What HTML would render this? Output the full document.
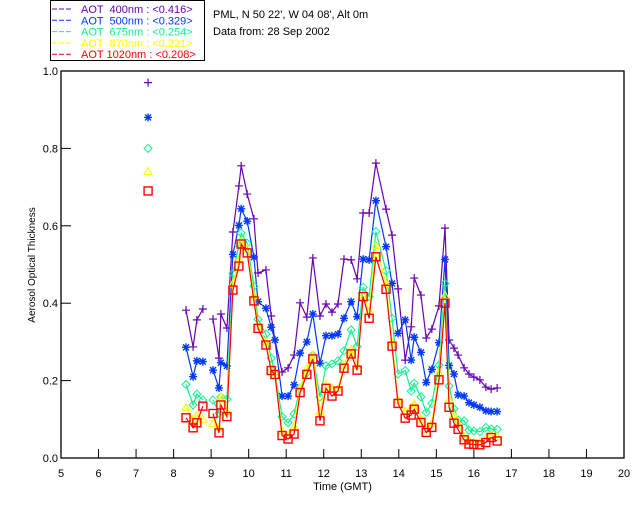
<!DOCTYPE html>
<html><head><meta charset="utf-8">
<style>
body{margin:0;background:#fff;}
svg{display:block;font-family:"Liberation Sans",sans-serif;}
</style></head>
<body>
<svg id="chart" width="640" height="512" viewBox="0 0 640 512"></svg>
<script>
const timesHr=[8.33,8.52,8.62,8.78,null,9.05,9.21,9.26,9.42,9.58,9.74,9.80,9.96,10.14,10.25,10.46,10.60,10.70,10.89,11.05,11.21,11.37,11.55,11.71,11.90,12.06,12.22,12.38,12.54,12.73,12.89,13.05,13.21,13.39,13.66,13.82,13.98,14.17,14.33,14.41,14.59,14.73,14.88,15.07,15.23,15.34,15.47,15.58,15.74,15.87,16.00,16.16,16.32,16.46,16.62];
const aot400=[0.382,0.287,0.357,0.385,null,0.359,0.258,0.372,0.336,0.584,0.703,0.755,0.682,0.618,0.478,0.486,0.367,0.305,0.222,0.233,0.266,0.401,0.364,0.517,0.367,0.398,0.377,0.398,0.514,0.512,0.463,0.633,0.633,0.762,0.643,0.576,0.437,0.253,0.339,0.465,0.421,0.310,0.333,0.393,0.594,0.305,0.284,0.266,0.233,0.217,0.209,0.202,0.183,0.178,0.181];
const aot500=[0.286,0.210,0.251,0.249,null,0.227,0.181,0.246,0.238,0.526,0.601,0.644,0.612,0.519,0.404,0.387,0.338,0.305,0.160,0.160,0.189,0.271,0.300,0.372,0.245,0.316,0.316,0.320,0.361,0.404,0.365,0.514,0.512,0.665,0.546,0.451,0.322,0.357,0.253,0.312,0.273,0.195,0.229,0.298,0.513,0.239,0.217,0.163,0.160,0.143,0.137,0.131,0.122,0.120,0.120];
const aot675=[0.190,0.137,0.165,0.150,null,0.150,0.116,0.158,0.152,0.477,0.550,0.581,0.555,0.444,0.358,0.320,0.258,0.220,0.107,0.091,0.114,0.181,0.220,0.266,0.158,0.238,0.243,0.251,0.277,0.331,0.288,0.441,0.417,0.585,0.484,0.361,0.217,0.226,0.173,0.193,0.158,0.118,0.141,0.240,0.451,0.186,0.127,0.098,0.096,0.072,0.070,0.068,0.079,0.075,0.074];
const aot870=[0.130,0.100,0.110,0.100,null,0.090,0.078,0.158,0.120,0.450,0.510,0.560,0.540,0.420,0.340,0.300,0.230,0.220,0.070,0.060,0.080,0.180,0.230,0.265,0.120,0.190,0.180,0.180,0.240,0.280,0.240,0.420,0.380,0.550,0.450,0.300,0.150,0.120,0.130,0.140,0.100,0.075,0.090,0.220,0.420,0.150,0.110,0.090,0.055,0.045,0.042,0.040,0.050,0.060,0.055];
const aot1020=[0.104,0.078,0.091,0.134,null,0.115,0.065,0.137,0.107,0.434,0.496,0.553,0.530,0.406,0.335,0.292,0.226,0.216,0.058,0.049,0.062,0.169,0.216,0.256,0.096,0.180,0.160,0.173,0.232,0.269,0.227,0.417,0.361,0.520,0.436,0.289,0.141,0.103,0.111,0.126,0.092,0.066,0.079,0.202,0.400,0.131,0.090,0.074,0.047,0.036,0.035,0.034,0.040,0.053,0.044];
const keyTime=7.32;
const keyValues=[0.97,0.88,0.80,0.74,0.69];
const xTicks=[5,6,7,8,9,10,11,12,13,14,15,16,17,18,19,20];
const yTicks=[0,0.2,0.4,0.6,0.8,1.0];
const yTickLabels=["0.0","0.2","0.4","0.6","0.8","1.0"];
const legendLabels=["AOT  400nm : <0.416>","AOT  500nm : <0.329>","AOT  675nm : <0.254>","AOT  870nm : <0.221>","AOT 1020nm : <0.208>"];

const NS="http://www.w3.org/2000/svg";
const svg=document.getElementById('chart');
const L=61,R=624,T=71,B=458;
const xs=t=>L+(t-5)/15*(R-L);
const ys=v=>B-v*(B-T);
function mk(tag,at,parent){const e=document.createElementNS(NS,tag);for(const k in at)e.setAttribute(k,at[k]);(parent||svg).appendChild(e);return e;}

const series=[
 {name:'aot-400',vals:aot400,color:'#6a00b0',sym:'plus'},
 {name:'aot-500',vals:aot500,color:'#0038ff',sym:'star'},
 {name:'aot-675',vals:aot675,color:'#10f090',sym:'diamond'},
 {name:'aot-870',vals:aot870,color:'#ffff00',sym:'triangle'},
 {name:'aot-1020',vals:aot1020,color:'#ff0000',sym:'square'}
];

const ax=mk('g',{});


const frame=mk('rect',{x:L,y:T,width:R-L,height:B-T,fill:'none',stroke:'#000','stroke-width':1.3},ax);


xTicks.forEach(t=>{
 const x=xs(t);
 const tk=mk('line',{x1:x,x2:x,y1:B,y2:B-9,stroke:'#000'},ax);
 
 
 const lb=mk('text',{x:x,y:B+19,'font-size':11,'text-anchor':'middle'},ax);
 lb.textContent=t;
 
 
});
yTicks.forEach((v,i)=>{
 const y=ys(v);
 const tk=mk('line',{x1:L,x2:L+10,y1:y,y2:y,stroke:'#000'},ax);
 
 
 const lb=mk('text',{x:L-3,y:y+4,'font-size':11,'text-anchor':'end'},ax);
 lb.textContent=yTickLabels[i];
 
 
});
const xt=mk('text',{x:(L+R)/2,y:490,'font-size':11,'text-anchor':'middle'});
xt.textContent='Time (GMT)';


const yt=mk('text',{x:0,y:0,'font-size':10,'text-anchor':'middle',transform:'translate(35,265) rotate(-90)'});
yt.textContent='Aerosol Optical Thickness';



function symbol(g,type,x,y,c){
 let e;
 if(type==='plus'){e=mk('path',{d:`M${x-4},${y}H${x+4}M${x},${y-4}V${y+4}`,stroke:c,'stroke-width':1.2,fill:'none'},g);}
 else if(type==='star'){e=mk('path',{d:`M${x-4},${y}H${x+4}M${x},${y-4}V${y+4}M${x-3},${y-3}L${x+3},${y+3}M${x-3},${y+3}L${x+3},${y-3}`,stroke:c,'stroke-width':1.4,fill:'none'},g);}
 else if(type==='diamond'){e=mk('path',{d:`M${x},${y-4}L${x+4},${y}L${x},${y+4}L${x-4},${y}Z`,stroke:c,fill:'none'},g);}
 else if(type==='triangle'){e=mk('path',{d:`M${x},${y-4}L${x+4},${y+3}L${x-4},${y+3}Z`,stroke:c,fill:'none','stroke-width':1.2},g);}
 else {e=mk('rect',{x:x-4,y:y-4,width:8,height:8,stroke:c,fill:'none','stroke-width':1.4},g);}
 
 
}

series.forEach((s,si)=>{
 const g=mk('g',{});
 
 
 let d='',pen=false;
 timesHr.forEach((t,i)=>{
  const v=s.vals[i];
  if(t===null||v===null){pen=false;return;}
  d+=(pen?'L':'M')+xs(t).toFixed(1)+','+ys(v).toFixed(1);pen=true;
 });
 const ln=mk('path',{d:d,stroke:s.color,fill:'none','stroke-width':1.2},g);
 
 
 timesHr.forEach((t,i)=>{
  const v=s.vals[i];
  if(t===null||v===null)return;
  symbol(g,s.sym,xs(t),ys(v),s.color);
 });
 symbol(g,s.sym,xs(keyTime),ys(keyValues[si]),s.color);
});

const lg=mk('g',{});


const lbox=mk('rect',{x:50.5,y:0.5,width:154,height:60,fill:'#fff',stroke:'#000'},lg);


series.forEach((s,i)=>{
 const y=9+i*11.3;
 const dl=mk('line',{x1:52,x2:72,y1:y,y2:y,stroke:s.color,'stroke-dasharray':'5,2'},lg);
 
 
 const tx=mk('text',{x:81,y:y+4,'font-size':11,fill:s.color},lg);
 tx.setAttribute('style','white-space:pre');
 tx.textContent=legendLabels[i];
 
 
});
const t1=mk('text',{x:213,y:18,'font-size':11});
t1.textContent="PML, N 50 22', W 04 08', Alt 0m";


const t2=mk('text',{x:213,y:35,'font-size':11});
t2.textContent="Data from: 28 Sep 2002";


</script>
</body></html>
